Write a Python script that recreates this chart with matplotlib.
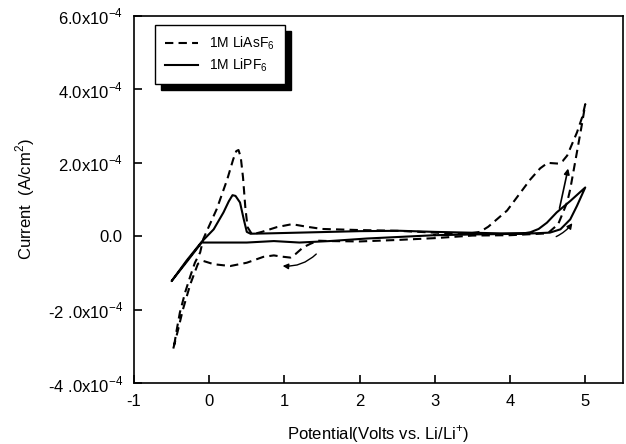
import numpy as np
import matplotlib.pyplot as plt
from matplotlib.patches import Rectangle

plt.rcParams['font.family'] = ['Liberation Sans', 'DejaVu Sans']
plt.rcParams['mathtext.fontset'] = 'custom'
plt.rcParams['mathtext.rm'] = 'Liberation Sans'
plt.rcParams['axes.unicode_minus'] = False

# 1M LiAsF6 (V, current in 1e-4 A/cm2)
v_as = [3.0, 2.5, 2.0, 1.6, 1.45, 1.35, 1.25, 1.15, 1.08, 0.95, 0.86, 0.72, 0.5, 0.28,
        0.06, -0.08, -0.15, -0.25, -0.35, -0.42, -0.48,
        -0.46, -0.43, -0.39, -0.32, -0.25, -0.19, -0.12, -0.08, 0.1, 0.24, 0.32, 0.36, 0.39,
        0.42, 0.45, 0.48, 0.51, 0.57, 0.7, 0.9, 1.1, 1.3, 1.5, 2.0, 2.5, 3.0, 3.4, 3.6,
        3.71, 3.96, 4.27, 4.4, 4.5, 4.64, 4.7, 4.76, 4.89, 4.96, 5.0,
        4.96, 4.89, 4.8, 4.76, 4.64, 4.5, 4.0, 3.5, 3.0]
i_as = [-0.05, -0.1, -0.14, -0.13, -0.12, -0.2, -0.3, -0.48, -0.58, -0.55, -0.52, -0.56, -0.72, -0.81,
        -0.76, -0.67, -0.75, -1.3, -2.0, -2.6, -3.08,
        -2.9, -2.53, -2.08, -1.53, -1.08, -0.72, -0.44, -0.08, 0.74, 1.55, 2.1, 2.32, 2.35,
        2.15, 1.6, 0.8, 0.25, 0.05, 0.12, 0.25, 0.33, 0.26, 0.2, 0.17, 0.15, 0.1, 0.06, 0.12,
        0.26, 0.7, 1.55, 1.85, 2.0, 1.98, 2.05, 2.2, 2.83, 3.25, 3.6,
        3.1, 2.3, 1.28, 0.93, 0.33, 0.08, 0.03, 0.02, -0.05]

# 1M LiPF6
v_pf = [3.0, 2.5, 2.1, 1.6, 1.2, 0.86, 0.5, 0.0, -0.1, -0.3, -0.5,
        -0.3, -0.1, 0.06, 0.19, 0.26, 0.31, 0.35, 0.41, 0.46, 0.5, 0.55, 0.8, 1.2, 2.0, 2.54,
        3.0, 3.87, 4.18, 4.27, 4.38, 4.49, 4.62, 4.8, 5.0,
        4.89, 4.8, 4.67, 4.53, 4.2, 3.5, 3.0]
i_pf = [0.03, -0.02, -0.06, -0.13, -0.17, -0.13, -0.17, -0.17, -0.17, -0.7, -1.22,
        -0.66, -0.15, 0.19, 0.65, 0.95, 1.12, 1.1, 0.92, 0.46, 0.12, 0.07, 0.08, 0.1, 0.14, 0.15,
        0.12, 0.08, 0.08, 0.11, 0.2, 0.37, 0.65, 0.96, 1.33,
        0.83, 0.46, 0.19, 0.1, 0.07, 0.05, 0.03]

yticks = [-4e-4, -2e-4, 0, 2e-4, 4e-4, 6e-4]
ylabels = ['-4 .0x10$^{-4}$', '-2 .0x10$^{-4}$', '0.0', '2.0x10$^{-4}$', '4.0x10$^{-4}$', '6.0x10$^{-4}$']

fig = plt.figure(figsize=(6.26, 4.44), dpi=100)
ax = fig.add_axes([0.214, 0.137, 0.781, 0.827])

ax.plot(v_as, np.array(i_as) * 1e-4, color='black', lw=1.5, dashes=(4, 2.5), label='1M LiAsF$_6$')
ax.plot(v_pf, np.array(i_pf) * 1e-4, color='black', lw=1.5, label='1M LiPF$_6$')

# arrows
ax.annotate('', xy=(0.94, -0.8e-4), xytext=(1.45, -0.43e-4),
            arrowprops=dict(arrowstyle='-|>', color='black', lw=1, mutation_scale=8,
                            connectionstyle='arc3,rad=-0.25'))
ax.annotate('', xy=(4.78, 1.92e-4), xytext=(4.65, 0.69e-4),
            arrowprops=dict(arrowstyle='-|>', color='black', lw=1.2, mutation_scale=8))
ax.annotate('', xy=(4.85, 0.42e-4), xytext=(4.58, -0.04e-4),
            arrowprops=dict(arrowstyle='-|>', color='black', lw=1, mutation_scale=8,
                            connectionstyle='arc3,rad=0.15'))

ax.set_xlim(-1, 5.5)
ax.set_ylim(-4e-4, 6e-4)
ax.set_xticks([-1, 0, 1, 2, 3, 4, 5])
ax.set_yticks(yticks)
ax.set_yticklabels(ylabels)
ax.tick_params(direction='in', length=6, width=1.2, labelsize=12, top=False, right=False, pad=8)
for s in ax.spines.values():
    s.set_linewidth(1.2)

ax.set_xlabel('Potential(Volts vs. Li/Li$^{+}$)', fontsize=12, labelpad=10)
ax.set_ylabel('Current  (A/cm$^{2}$)', fontsize=12, labelpad=8)

leg = ax.legend(loc='upper left', bbox_to_anchor=(0.043, 0.975), borderaxespad=0,
                fontsize=10, handlelength=2.4, frameon=True, fancybox=False,
                edgecolor='black', framealpha=1, borderpad=0.7, labelspacing=0.3)
leg.get_frame().set_linewidth(1)

# black shadow behind legend
fig.canvas.draw()
bb = leg.get_window_extent().transformed(ax.transAxes.inverted())
dx = 6 / (ax.bbox.width)
dy = 6 / (ax.bbox.height)
ax.add_patch(Rectangle((bb.x0 + dx, bb.y0 - dy), bb.width, bb.height, transform=ax.transAxes,
                       facecolor='black', edgecolor='black', zorder=4.9, clip_on=False))

fig.savefig('out.png', dpi=100)
